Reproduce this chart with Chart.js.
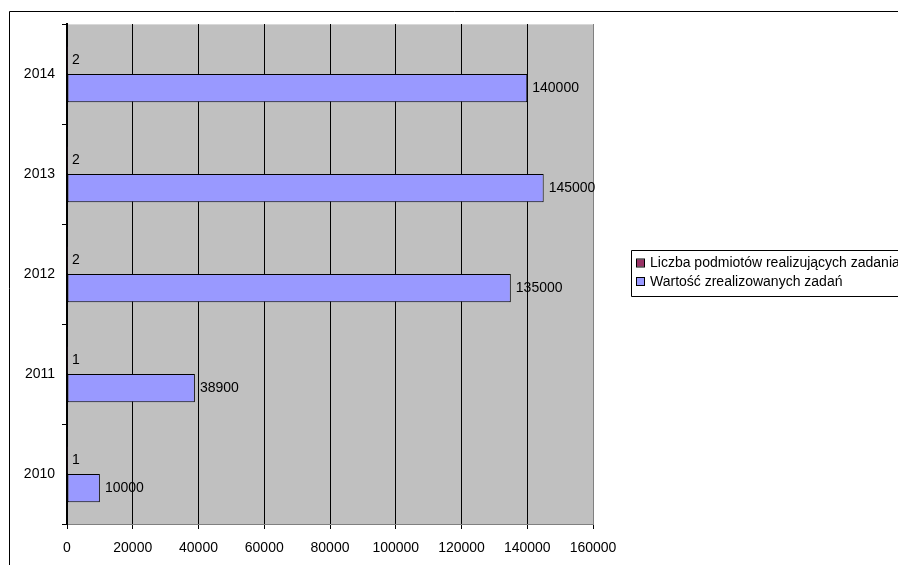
<!DOCTYPE html>
<html>
<head>
<meta charset="utf-8">
<script src="https://cdn.jsdelivr.net/npm/chart.js@4.4.1/dist/chart.umd.min.js"></script>
<style>
  html, body { margin: 0; padding: 0; background: #ffffff; }
  #wrap { width: 898px; height: 565px; position: relative; }
</style>
</head>
<body>
<div id="wrap"><canvas id="c" width="898" height="565"></canvas></div>
<script>
const categories = ['2014', '2013', '2012', '2011', '2010'];
const seriesNames = ['Liczba podmiotów realizujących zadania', 'Wartość zrealizowanych zadań'];
const countValues = [2, 2, 2, 1, 1];
const valueValues = [140000, 145000, 135000, 38900, 10000];
const xTicks = [0, 20000, 40000, 60000, 80000, 100000, 120000, 140000, 160000];

const FONT = "'Liberation Sans', Arial, sans-serif";

const framePlugin = {
  id: 'frame',
  beforeDraw(chart) {
    const ctx = chart.ctx;
    const a = chart.chartArea;
    ctx.save();
    ctx.fillStyle = '#ffffff';
    ctx.fillRect(0, 0, chart.width, chart.height);
    ctx.strokeStyle = '#000000';
    ctx.lineWidth = 1;
    ctx.beginPath();
    ctx.moveTo(9.5, chart.height + 2);
    ctx.lineTo(9.5, 11.5);
    ctx.lineTo(chart.width + 2, 11.5);
    ctx.stroke();
    ctx.fillStyle = '#C0C0C0';
    ctx.fillRect(a.left, a.top, a.right - a.left, a.bottom - a.top);
    ctx.strokeStyle = '#d8d8d8';
    ctx.beginPath();
    ctx.moveTo(a.left, a.top + 0.5);
    ctx.lineTo(a.right, a.top + 0.5);
    ctx.stroke();
    ctx.restore();
  },
  afterDatasetsDraw(chart) {
    const ctx = chart.ctx;
    ctx.save();
    ctx.font = '14px ' + FONT;
    ctx.fillStyle = '#000000';
    ctx.textAlign = 'left';
    ctx.textBaseline = 'middle';
    chart.data.datasets.forEach((ds, di) => {
      const meta = chart.getDatasetMeta(di);
      meta.data.forEach((bar, i) => {
        ctx.fillText(String(ds.data[i]), bar.x + 5, bar.y);
      });
    });
    const lx = 631.5, ly = 250.5, lh = 46;
    ctx.strokeStyle = '#000000';
    ctx.lineWidth = 1;
    ctx.beginPath();
    ctx.moveTo(chart.width + 2, ly);
    ctx.lineTo(lx, ly);
    ctx.lineTo(lx, ly + lh);
    ctx.lineTo(chart.width + 2, ly + lh);
    ctx.stroke();
    chart.data.datasets.forEach((ds, di) => {
      const cy = 263 + di * 18.5;
      ctx.fillStyle = ds.backgroundColor;
      ctx.fillRect(637, cy - 3.5, 7, 7);
      ctx.strokeStyle = '#000000';
      ctx.strokeRect(636.5, cy - 4, 8, 8);
      ctx.fillStyle = '#000000';
      ctx.fillText(ds.label, 650, cy + 0.5);
    });
    ctx.restore();
  }
};

new Chart(document.getElementById('c'), {
  type: 'bar',
  data: {
    labels: categories,
    datasets: [
      {
        label: seriesNames[0],
        data: countValues,
        backgroundColor: '#993366',
        borderColor: '#000000',
        borderWidth: 1,
        categoryPercentage: 0.565,
        barPercentage: 1.0
      },
      {
        label: seriesNames[1],
        data: valueValues,
        backgroundColor: '#9999FF',
        borderColor: '#000000',
        borderWidth: 1,
        borderSkipped: false,
        categoryPercentage: 0.565,
        barPercentage: 1.0
      }
    ]
  },
  options: {
    indexAxis: 'y',
    responsive: false,
    animation: false,
    devicePixelRatio: 1,
    layout: { padding: { left: 10, top: 24, right: 305, bottom: 0 } },
    plugins: {
      legend: { display: false },
      tooltip: { enabled: false },
      title: { display: false }
    },
    scales: {
      x: {
        type: 'linear',
        min: 0,
        max: 160000,
        afterBuildTicks(scale) { scale.ticks = xTicks.map(v => ({ value: v })); },
        afterFit(scale) { scale.height = 41; },
        ticks: {
          color: '#000000',
          font: { family: FONT, size: 14 },
          padding: 11,
          maxRotation: 0,
          autoSkip: false,
          callback: (v) => String(v)
        },
        grid: {
          color: (c) => (c.index === xTicks.length - 1 ? '#808080' : '#000000'),
          lineWidth: 1,
          drawTicks: true,
          tickLength: 5,
          tickColor: '#000000'
        },
        border: { display: true, color: '#808080', width: 1 }
      },
      y: {
        type: 'category',
        offset: true,
        afterFit(scale) { scale.width = 57; },
        ticks: {
          color: '#000000',
          font: { family: FONT, size: 14 },
          padding: 7
        },
        grid: {
          offset: true,
          drawOnChartArea: false,
          drawTicks: true,
          tickLength: 5,
          color: '#000000'
        },
        border: { display: true, color: '#000000', width: 2 }
      }
    }
  },
  plugins: [framePlugin]
});
</script>
</body>
</html>
